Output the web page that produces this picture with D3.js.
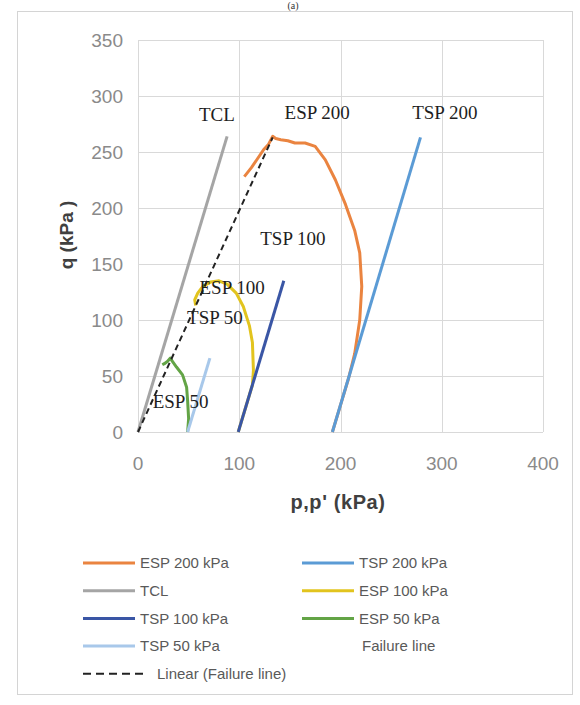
<!DOCTYPE html>
<html>
<head>
<meta charset="utf-8">
<script src="https://cdn.jsdelivr.net/npm/d3@7"></script>
<style>
  body { margin: 0; background: #fff; }
  svg { display: block; }
</style>
</head>
<body>
<svg width="580" height="705"></svg>
<script>
// stress paths, [p or p' (kPa), q (kPa)]
const esp200 = [[192,0],[200,24],[208,48],[214,70],[219,100],[221,130],[219,160],[214,180],[205,203],[195,225],[185,243],[175,255],[165,258],[155,258],[148,260],[141,261],[136,262],[133,264],[129,257],[124,252],[118,244],[112,236],[105,228]];
const tsp200 = [[192,0],[279,263]];
const tcl = [[0,0],[88,264]];
const esp100 = [[99,0],[106,21],[113,42],[114,55],[113,80],[110,95],[104,112],[97,124],[88,132],[80,135],[72,134],[64,130],[59,124],[56,118],[57,113]];
const tsp100 = [[99,0],[144,135]];
const esp50 = [[49,0],[50,12],[49,28],[48,40],[44,51],[38,58],[34,63],[32,66],[29,63],[26,61],[24,60]];
const tsp50 = [[49,0],[71,66]];
const failureLine = [];
const linearFailure = [[0,0],[133,263]];

const xTicks = [0, 100, 200, 300, 400];
const yTicks = [0, 50, 100, 150, 200, 250, 300, 350];

// text labels placed at [p, q]
const labels = [
  {text: "TCL", p: 78, q: 284},
  {text: "ESP 200", p: 177, q: 285},
  {text: "TSP 200", p: 303, q: 285},
  {text: "TSP 100", p: 153, q: 173},
  {text: "ESP 100", p: 93, q: 129},
  {text: "TSP 50", p: 76, q: 102},
  {text: "ESP 50", p: 42, q: 27}
];

const series = [
  {name: "ESP 200 kPa", data: esp200, color: "#ea8440"},
  {name: "TSP 200 kPa", data: tsp200, color: "#5b9bd5"},
  {name: "TCL", data: tcl, color: "#a5a5a5"},
  {name: "ESP 100 kPa", data: esp100, color: "#e2c41e"},
  {name: "TSP 100 kPa", data: tsp100, color: "#3a56a5"},
  {name: "ESP 50 kPa", data: esp50, color: "#63a446"},
  {name: "TSP 50 kPa", data: tsp50, color: "#a8c8ea"},
  {name: "Failure line", data: failureLine, color: null},
  {name: "Linear (Failure line)", data: linearFailure, color: "#222", dash: "6,4"}
];

const svg = d3.select("svg");

// outer chart frame
svg.append("rect")
  .attr("x", 17.5).attr("y", 11.5)
  .attr("width", 555).attr("height", 683)
  .attr("fill", "none")
  .attr("stroke", "#d4d4d4");

svg.append("text")
  .attr("x", 293).attr("y", 9)
  .attr("text-anchor", "middle")
  .style("font", "10px 'Liberation Serif'")
  .attr("fill", "#333")
  .text("(a)");

const x = d3.scaleLinear().domain([0, 400]).range([138, 543]);
const y = d3.scaleLinear().domain([0, 350]).range([432, 40]);

// gridlines
svg.append("g").selectAll("line").data(yTicks).join("line")
  .attr("x1", x(0)).attr("x2", x(400))
  .attr("y1", d => Math.round(y(d)) + 0.5).attr("y2", d => Math.round(y(d)) + 0.5)
  .attr("stroke", "#d9d9d9");
svg.append("g").selectAll("line").data(xTicks).join("line")
  .attr("y1", y(0)).attr("y2", y(350))
  .attr("x1", d => Math.round(x(d)) + 0.5).attr("x2", d => Math.round(x(d)) + 0.5)
  .attr("stroke", "#d9d9d9");

// tick labels
svg.append("g").selectAll("text").data(yTicks).join("text")
  .attr("x", 123).attr("y", d => y(d))
  .attr("dy", "0.36em")
  .attr("text-anchor", "end")
  .style("font", "19px 'Liberation Sans'")
  .attr("fill", "#8a8a8a")
  .text(d => d);
svg.append("g").selectAll("text").data(xTicks).join("text")
  .attr("x", d => x(d)).attr("y", 463)
  .attr("dy", "0.36em")
  .attr("text-anchor", "middle")
  .style("font", "19px 'Liberation Sans'")
  .attr("fill", "#8a8a8a")
  .text(d => d);

// axis titles
svg.append("text")
  .attr("transform", "translate(73,235) rotate(-90)")
  .attr("text-anchor", "middle")
  .style("font", "bold 19px 'Liberation Sans'")
  .attr("fill", "#404040")
  .text("q (kPa )");
svg.append("text")
  .attr("x", 338).attr("y", 509)
  .attr("text-anchor", "middle")
  .style("font", "bold 20px 'Liberation Sans'")
  .style("letter-spacing", "0.6px")
  .attr("fill", "#404040")
  .text("p,p' (kPa)");

// stress paths
const line = d3.line().x(d => x(d[0])).y(d => y(d[1]));
svg.append("g").selectAll("path")
  .data(series.filter(s => s.color && s.data.length))
  .join("path")
  .attr("d", s => line(s.data))
  .attr("fill", "none")
  .attr("stroke", s => s.color)
  .attr("stroke-width", s => s.dash ? 2 : 3)
  .attr("stroke-dasharray", s => s.dash || null)
  .attr("stroke-linejoin", "round");

// in-plot labels
svg.append("g").selectAll("text").data(labels).join("text")
  .attr("x", d => x(d.p)).attr("y", d => y(d.q))
  .attr("dy", "0.35em")
  .attr("text-anchor", "middle")
  .style("font", "19px 'Liberation Serif'")
  .attr("fill", "#1e1e1e")
  .text(d => d.text);

// legend, two columns
const legend = svg.append("g");
const rowY = i => 563 + Math.floor(i / 2) * 27.7;
series.forEach((s, i) => {
  const col = i % 2;
  const x0 = col ? 302 : 83;
  const g = legend.append("g").attr("transform", `translate(${x0},${rowY(i)})`);
  const w = s.dash ? 60 : 52;
  if (s.color) {
    g.append("line")
      .attr("x1", 0).attr("x2", w)
      .attr("stroke", s.color)
      .attr("stroke-width", s.dash ? 2 : 3)
      .attr("stroke-dasharray", s.dash ? "8,5" : null);
  }
  g.append("text")
    .attr("x", s.dash ? 74 : (s.color ? 57 : 60))
    .attr("dy", "0.35em")
    .style("font", "15px 'Liberation Sans'")
    .attr("fill", "#595959")
    .text(s.name);
});
</script>
</body>
</html>
